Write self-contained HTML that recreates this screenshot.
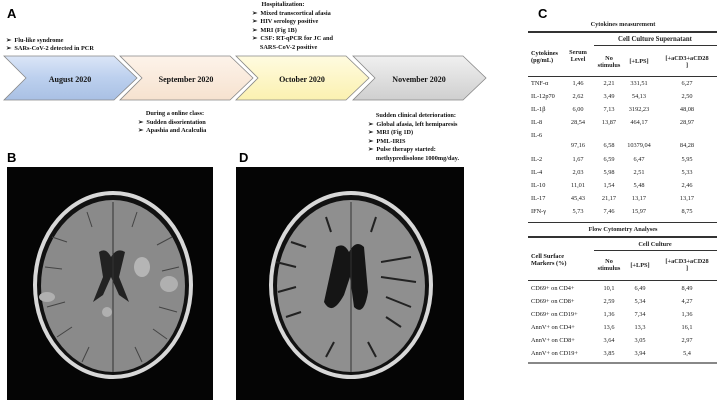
<!DOCTYPE html>
<html><head><meta charset="utf-8"><style>
body{margin:0;width:719px;height:402px;background:#fff;position:relative;overflow:hidden;font-family:"Liberation Serif",serif;}
.t{position:absolute;font-size:6.3px;white-space:nowrap;color:#111;}
.b{font-weight:bold;}
.L{position:absolute;font-family:"Liberation Sans",sans-serif;font-weight:bold;font-size:13px;}
.hl{position:absolute;background:#333;}
.c{position:absolute;font-size:6.3px;text-align:center;transform:translateX(-50%);white-space:nowrap;color:#222;}
</style></head><body>
<div class="L" style="left:7px;top:6px">A</div>
<div class="L" style="left:7px;top:150px">B</div>
<div class="L" style="left:239px;top:150px">D</div>
<div class="L" style="left:538px;top:6px">C</div>

<svg style="position:absolute;left:0;top:0" width="520" height="110">
<defs>
<linearGradient id="g1" x1="0" y1="0" x2="0" y2="1"><stop offset="0" stop-color="#dbe6f7"/><stop offset="0.5" stop-color="#bcd0ee"/><stop offset="1" stop-color="#a9c0e4"/></linearGradient>
<linearGradient id="g2" x1="0" y1="0" x2="0" y2="1"><stop offset="0" stop-color="#fdf3ea"/><stop offset="1" stop-color="#f6e2cf"/></linearGradient>
<linearGradient id="g3" x1="0" y1="0" x2="0" y2="1"><stop offset="0" stop-color="#fffbe0"/><stop offset="1" stop-color="#fbf1b0"/></linearGradient>
<linearGradient id="g4" x1="0" y1="0" x2="0" y2="1"><stop offset="0" stop-color="#f0f0f0"/><stop offset="1" stop-color="#cfcfcf"/></linearGradient>
</defs>
<g stroke="#888" stroke-width="0.8">
<polygon points="4,56 114,56 137,78 114,100 4,100 26,78" fill="url(#g1)"/>
<polygon points="120,56 230,56 253,78 230,100 120,100 142,78" fill="url(#g2)"/>
<polygon points="236,56 346,56 369,78 346,100 236,100 258,78" fill="url(#g3)"/>
<polygon points="353,56 463,56 486,78 463,100 353,100 375,78" fill="url(#g4)"/>
</g>
<g font-family="Liberation Serif" font-weight="bold" font-size="8" text-anchor="middle" fill="#111">
<text x="70" y="82">August 2020</text>
<text x="186" y="82">September 2020</text>
<text x="302" y="82">October 2020</text>
<text x="419" y="82">November 2020</text>
</g>
</svg>

<div class="t b" style="left:6px;top:37px;line-height:8px">➢&nbsp; Flu-like syndrome<br>➢&nbsp; SARs-CoV-2 detected in PCR</div>
<div class="t b" style="left:252px;top:1px;line-height:8.5px">&nbsp;&nbsp;&nbsp;&nbsp;&nbsp;&nbsp;Hospitalization:<br>➢&nbsp; Mixed transcortical afasia<br>➢&nbsp; HIV serology positive<br>➢&nbsp; MRI (Fig 1B)<br>➢&nbsp; CSF: RT-qPCR for JC and<br>&nbsp;&nbsp;&nbsp;&nbsp;&nbsp;SARS-CoV-2 positive</div>
<div class="t b" style="left:138px;top:110px;line-height:8.5px">&nbsp;&nbsp;&nbsp;&nbsp;&nbsp;During a online class:<br>➢&nbsp; Sudden disorientation<br>➢&nbsp; Apashia and Acalculia</div>
<div class="t b" style="left:368px;top:112px;line-height:8.5px">&nbsp;&nbsp;&nbsp;&nbsp;&nbsp;Sudden clinical deterioration:<br>➢&nbsp; Global afasia, left hemiparesis<br>➢&nbsp; MRI (Fig 1D)<br>➢&nbsp; PML-IRIS<br>➢&nbsp; Pulse therapy started:<br>&nbsp;&nbsp;&nbsp;&nbsp;&nbsp;methypredisolone 1000mg/day.</div>

<svg style="position:absolute;left:7px;top:167px" width="206" height="233">
<rect width="206" height="233" fill="#050505"/>
<ellipse cx="106" cy="118" rx="80" ry="94" fill="#d8d8d8"/>
<ellipse cx="106" cy="118" rx="76" ry="90" fill="#111"/>
<ellipse cx="106" cy="119" rx="72" ry="86" fill="#8a8a8a"/>
<g stroke="#444" stroke-width="1" fill="none">
<path d="M45 70 L60 75 M38 100 L55 102 M40 140 L58 135 M50 170 L65 160 M165 70 L150 78 M172 100 L155 104 M170 145 L152 140 M160 172 L146 162 M80 45 L85 60 M130 45 L125 60 M75 195 L82 180 M135 195 L128 180"/></g>
<path d="M92 85 Q99 80 104 90 Q110 80 118 85 L112 110 L122 135 L112 128 L104 110 L96 128 L86 135 L96 110 Z" fill="#222"/>
<ellipse cx="135" cy="100" rx="8" ry="10" fill="#b5b5b5"/>
<ellipse cx="162" cy="117" rx="9" ry="8" fill="#b0b0b0"/>
<ellipse cx="40" cy="130" rx="8" ry="5" fill="#b0b0b0"/>
<ellipse cx="100" cy="145" rx="5" ry="5" fill="#b0b0b0"/>
<line x1="106" y1="35" x2="106" y2="205" stroke="#333" stroke-width="1"/>
</svg>
<svg style="position:absolute;left:236px;top:167px" width="228" height="233">
<rect width="228" height="233" fill="#050505"/>
<ellipse cx="115" cy="118" rx="82" ry="94" fill="#d8d8d8"/>
<ellipse cx="115" cy="118" rx="78" ry="90" fill="#111"/>
<ellipse cx="115" cy="119" rx="74" ry="86" fill="#8f8f8f"/>
<path d="M100 80 Q108 75 113 85 Q120 72 128 80 L132 125 Q128 150 118 140 L114 110 L108 128 Q96 150 88 135 Z" fill="#151515"/>
<g stroke="#222" stroke-width="2" fill="none"><path d="M145 95 L175 90 M145 110 L180 115 M150 130 L175 140 M60 100 L40 95 M60 120 L42 125 M55 75 L70 80 M50 150 L65 145 M165 160 L150 150 M90 50 L95 65 M140 50 L135 65 M90 190 L98 175 M140 190 L132 175"/></g>
<line x1="115" y1="35" x2="115" y2="205" stroke="#333" stroke-width="1"/>
</svg>

<!-- Table C -->
<div class="c b" style="left:623px;top:21px">Cytokines measurement</div>
<div class="hl" style="left:528px;top:31px;width:189px;height:1.5px"></div>
<div class="c b" style="left:655px;top:36px;font-size:6.8px">Cell Culture Supernatant</div>
<div class="hl" style="left:594px;top:45px;width:123px;height:1px"></div>
<div class="t b" style="left:531px;top:50px;line-height:7px">Cytokines<br>(pg/mL)</div>
<div class="c b" style="left:578px;top:49px;line-height:7px">Serum<br>Level</div>
<div class="c b" style="left:609px;top:55px;line-height:7px">No<br>stimulus</div>
<div class="c b" style="left:639px;top:58px">[+LPS]</div>
<div class="c b" style="left:687px;top:55px;line-height:7px">[+aCD3+aCD28<br>]</div>
<div class="hl" style="left:528px;top:76px;width:189px;height:1px"></div>
<div id="rows"></div>
<div class="hl" style="left:528px;top:222px;width:189px;height:1px"></div>
<div class="c b" style="left:623px;top:226px">Flow Cytometry Analyses</div>
<div class="hl" style="left:528px;top:236px;width:189px;height:1.5px"></div>
<div class="c b" style="left:655px;top:241px">Cell Culture</div>
<div class="hl" style="left:594px;top:250px;width:123px;height:1px"></div>
<div class="t b" style="left:531px;top:253px;line-height:7px">Cell Surface<br>Markers (%)</div>
<div class="c b" style="left:609px;top:258px;line-height:7px">No<br>stimulus</div>
<div class="c b" style="left:640px;top:262px">[+LPS]</div>
<div class="c b" style="left:687px;top:258px;line-height:7px">[+aCD3+aCD28<br>]</div>
<div class="hl" style="left:528px;top:280px;width:189px;height:1px"></div>
<div class="hl" style="left:528px;top:362px;width:189px;height:1.5px;background:#888"></div>
<script>
var r=[["TNF-α",80,"1,46","2,21","331,51","6,27"],["IL-12p70",93,"2,62","3,49","54,13","2,50"],["IL-1β",106,"6,00","7,13","3192,23","48,08"],["IL-8",119,"28,54","13,87","464,17","28,97"],["IL-6",132,"97,16","6,58","10379,04","84,28",10],["IL-2",156,"1,67","6,59","6,47","5,95"],["IL-4",169,"2,03","5,98","2,51","5,33"],["IL-10",182,"11,01","1,54","5,48","2,46"],["IL-17",195,"45,43","21,17","13,17","13,17"],["IFN-γ",208,"5,73","7,46","15,97","8,75"]];
var f=[["CD69+ on CD4+",285,"10,1","6,49","8,49"],["CD69+ on CD8+",298,"2,59","5,34","4,27"],["CD69+ on CD19+",311,"1,36","7,34","1,36"],["AnnV+ on CD4+",324,"13,6","13,3","16,1"],["AnnV+ on CD8+",337,"3,64","3,05","2,97"],["AnnV+ on CD19+",350,"3,85","3,94","5,4"]];
var h="";
r.forEach(function(a){var y=a[1],d=a[6]||0;h+='<div class="t" style="left:531px;top:'+y+'px">'+a[0]+'</div>';
[578,609,639,687].forEach(function(x,i){h+='<div class="c" style="left:'+x+'px;top:'+(y+d)+'px">'+a[i+2]+'</div>';});});
f.forEach(function(a){var y=a[1];h+='<div class="t" style="left:531px;top:'+y+'px">'+a[0]+'</div>';
[609,640,687].forEach(function(x,i){h+='<div class="c" style="left:'+x+'px;top:'+y+'px">'+a[i+2]+'</div>';});});
document.getElementById("rows").innerHTML=h;
</script>
</body></html>
